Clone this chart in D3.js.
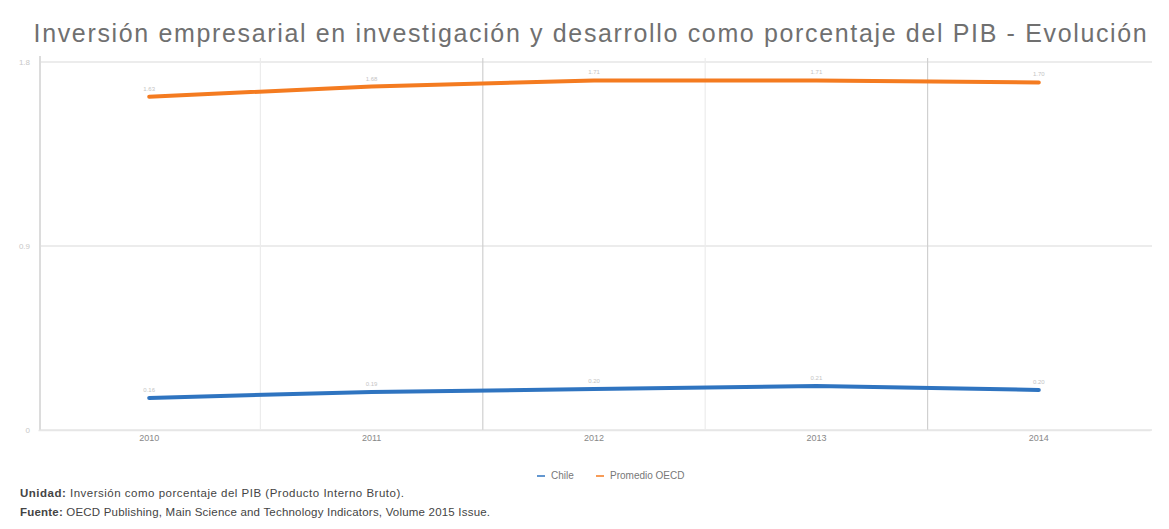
<!DOCTYPE html>
<html><head><meta charset="utf-8">
<script src="https://cdn.jsdelivr.net/npm/d3@7"></script>
<style>body{margin:0;background:#fff;} text{font-family:"Liberation Sans",Arial,sans-serif;}</style>
</head><body>
<svg id="c" width="1169" height="529"></svg>
<script>
const years = ["2010","2011","2012","2013","2014"];
const chile = [0.157, 0.186, 0.200, 0.215, 0.196];
const oecd = [1.63, 1.68, 1.71, 1.71, 1.70];
const yTicks = [0, 0.9, 1.8];
const yTickLabels = ["0", "0.9", "1.8"];
const seriesNames = ["Chile", "Promedio OECD"];
const colors = ["#2f74c0", "#f47b20"];

const svg = d3.select("#c");
const m = {l: 40, r: 17, t: 62, b: 99};
const W = 1169, H = 529;
const x = d3.scaleBand().domain(years).range([m.l - 2, W - m.r - 2]);
const y = d3.scaleLinear().domain([0, 1.8]).range([H - m.b, m.t]);

svg.append("text").attr("x", 591).attr("y", 42).attr("text-anchor", "middle")
  .attr("font-size", 25).attr("fill", "#707070").attr("letter-spacing", 1.65)
  .text("Inversión empresarial en investigación y desarrollo como porcentaje del PIB - Evolución");

// horizontal grid
svg.append("g").selectAll("line").data(yTicks).join("line")
  .attr("x1", m.l).attr("x2", W - m.r).attr("y1", d => y(d)).attr("y2", d => y(d))
  .attr("stroke", "#e6e6e6").attr("stroke-width", 1.5);
// vertical separators between categories
const seps = years.slice(1);
svg.append("g").selectAll("line").data(seps).join("line")
  .attr("x1", d => x(d)).attr("x2", d => x(d)).attr("y1", m.t - 4).attr("y2", H - m.b)
  .attr("stroke", (d, i) => i % 2 ? "#d0d0d0" : "#ececec").attr("stroke-width", 1.2);
// y axis line
svg.append("line").attr("x1", m.l).attr("x2", m.l).attr("y1", m.t - 6).attr("y2", H - m.b)
  .attr("stroke", "#dcdcdc").attr("stroke-width", 2);
// y tick labels
svg.append("g").selectAll("text").data(yTicks).join("text")
  .attr("x", m.l - 10).attr("y", d => y(d) + 3).attr("text-anchor", "end")
  .attr("font-size", 8).attr("fill", "#c8c8c8").text((d, i) => yTickLabels[i]);
// x axis
const xa = svg.append("g").attr("transform", `translate(0,${H - m.b})`)
  .call(d3.axisBottom(x).tickSize(0).tickPadding(5));
xa.select(".domain").attr("stroke", "#e6e6e6").attr("stroke-width", 1.5);
xa.selectAll("text").attr("font-size", 9).attr("fill", "#888").attr("font-family", "Liberation Sans, Arial, sans-serif");

const line = d3.line().x((d, i) => x(years[i]) + x.bandwidth() / 2).y(d => y(d));
[chile, oecd].forEach((s, k) => {
  svg.append("path").datum(s).attr("d", line).attr("fill", "none")
    .attr("stroke", colors[k]).attr("stroke-width", 4).attr("stroke-linecap", "round");
  svg.append("g").selectAll("text").data(s).join("text")
    .attr("x", (d, i) => x(years[i]) + x.bandwidth() / 2)
    .attr("y", d => y(d) - 6).attr("text-anchor", "middle")
    .attr("font-size", 6).attr("fill", "#c4c4c4").text(d => d.toFixed(2));
});

// legend
const lg = svg.append("g");
const lx = [537, 596];
seriesNames.forEach((n, k) => {
  lg.append("line").attr("x1", lx[k]).attr("x2", lx[k] + 8).attr("y1", 476).attr("y2", 476)
    .attr("stroke", colors[k]).attr("stroke-width", 1.5);
  lg.append("text").attr("x", lx[k] + 14).attr("y", 479).attr("font-size", 10).attr("fill", "#777").text(n);
});

// footer
const f1 = svg.append("text").attr("x", 20).attr("y", 497).attr("font-size", 11.5).attr("fill", "#444").attr("letter-spacing", 0.5);
f1.append("tspan").attr("font-weight", "bold").text("Unidad: ");
f1.append("tspan").text("Inversión como porcentaje del PIB (Producto Interno Bruto).");
const f2 = svg.append("text").attr("x", 20).attr("y", 516).attr("font-size", 11.5).attr("fill", "#444").attr("letter-spacing", 0.2);
f2.append("tspan").attr("font-weight", "bold").text("Fuente: ");
f2.append("tspan").text("OECD Publishing, Main Science and Technology Indicators, Volume 2015 Issue.");
</script>
</body></html>
